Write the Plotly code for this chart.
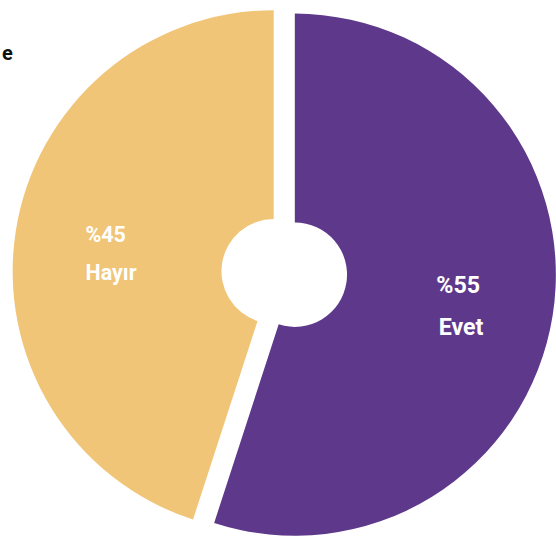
import plotly.graph_objects as go

# answer labels and shares (%)
labels = ["Evet", "Hayır"]
shares = [55, 45]
pct_text = ["%55", "%45"]
label_size = [16, 14.8]   # the purple slice's labels are set a touch larger
inner_pad = [4, -3]       # nbsp padding toward the hole (+ lead, - trail)

PURPLE = "#5E398B"
GOLD = "#F0C577"
WHITE = "#FFFFFF"
NB = "\u00a0"

# left-align the two lines, then push the block outward from the hole
texts = []
for lab, pct, p in zip(labels, pct_text, inner_pad):
    pct = pct + NB * max(0, len(lab) - len(pct))
    lead, trail = NB * max(p, 0), NB * max(-p, 0)
    big = "<span style='font-size:1.45em'><b>{}</b></span>"
    texts.append(NB + "<br>"
                 + big.format(lead + pct + trail) + "<br><br>"
                 + big.format(lead + lab + trail))

fig = go.Figure(go.Pie(
    labels=labels,
    values=shares,
    text=texts,
    textinfo="text",
    textposition="inside",
    insidetextorientation="horizontal",
    textfont=dict(family="Roboto, sans-serif", size=label_size, color=WHITE),
    marker=dict(colors=[PURPLE, GOLD], line=dict(width=0)),
    hole=0.2,
    pull=[0.041, 0.041],
    sort=False,
    direction="clockwise",
    rotation=0,
    showlegend=False,
    domain=dict(x=[0.0225, 1], y=[0.0073, 1]),
))

# title remnant at the top-left edge
fig.add_annotation(
    text="<b>e</b>", x=0, y=0.904, xref="paper", yref="paper",
    xanchor="left", yanchor="middle", showarrow=False,
    font=dict(family="Roboto, sans-serif", size=20, color="#111111"),
)

fig.update_layout(
    width=556, height=550,
    margin=dict(l=0, r=0, t=0, b=0),
    paper_bgcolor=WHITE, plot_bgcolor=WHITE,
)

fig.write_html("out.html", config={"displayModeBar": False},
               post_script="document.body.style.margin = '0px';")
